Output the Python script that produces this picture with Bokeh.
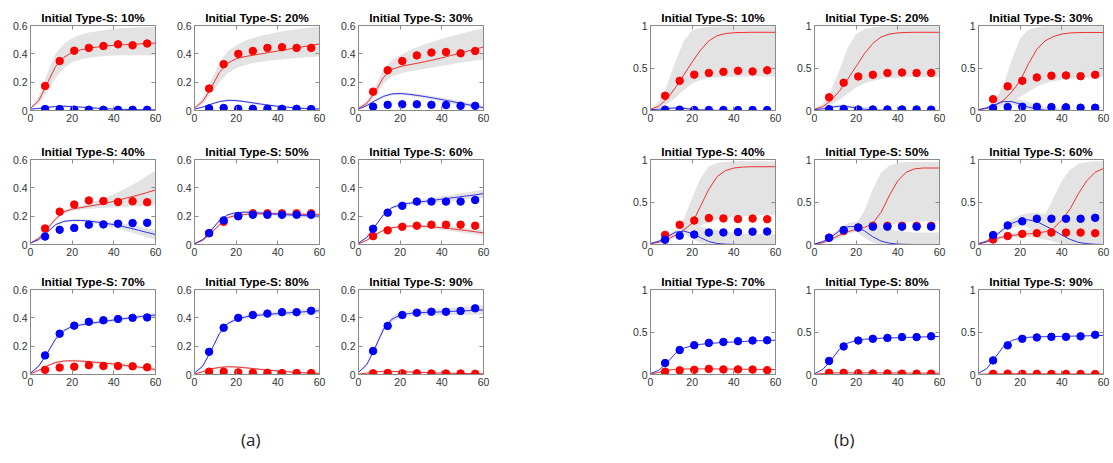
from bokeh.plotting import figure
from bokeh.layouts import row, column, Spacer
from bokeh.models import Div, FixedTicker, LinearAxis, Range1d
from bokeh.embed import file_html
from bokeh.resources import INLINE

# ---------------- data ----------------
PCTS = [10, 20, 30, 40, 50, 60, 70, 80, 90]
DAYS = [7, 14, 21, 28, 35, 42, 49, 56]
TIME = [0, 4, 8, 12, 16, 20, 24, 28, 32, 36, 40, 44, 48, 52, 56, 60]
A_YTICKS = [0, 0.2, 0.4, 0.6]
A_YLABELS = ["0", "0.2", "0.4", "0.6"]
B_YTICKS = [0, 0.5, 1]
B_YLABELS = ["0", "0.5", "1"]
XTICKS = [0, 20, 40, 60]
XLABELS = ["0", "20", "40", "60"]

red_obs = {
    10: [0.173, 0.349, 0.422, 0.442, 0.455, 0.467, 0.460, 0.473],
    20: [0.155, 0.327, 0.400, 0.420, 0.442, 0.447, 0.442, 0.442],
    30: [0.133, 0.284, 0.349, 0.389, 0.409, 0.413, 0.404, 0.420],
    40: [0.113, 0.232, 0.282, 0.311, 0.307, 0.300, 0.305, 0.298],
    50: [0.080, 0.160, 0.200, 0.220, 0.220, 0.220, 0.220, 0.220],
    60: [0.059, 0.100, 0.125, 0.133, 0.140, 0.140, 0.140, 0.133],
    70: [0.033, 0.049, 0.055, 0.066, 0.060, 0.060, 0.058, 0.051],
    80: [0.020, 0.020, 0.015, 0.012, 0.012, 0.010, 0.010, 0.010],
    90: [0.008, 0.010, 0.008, 0.008, 0.007, 0.007, 0.007, 0.005],
}
blue_obs = {
    10: [0.010, 0.010, 0.006, 0.006, 0.005, 0.005, 0.005, 0.005],
    20: [0.015, 0.018, 0.012, 0.012, 0.012, 0.012, 0.012, 0.010],
    30: [0.027, 0.040, 0.044, 0.044, 0.040, 0.038, 0.033, 0.033],
    40: [0.056, 0.104, 0.117, 0.140, 0.142, 0.147, 0.151, 0.153],
    50: [0.080, 0.170, 0.200, 0.210, 0.210, 0.210, 0.210, 0.210],
    60: [0.111, 0.225, 0.273, 0.303, 0.303, 0.303, 0.303, 0.314],
    70: [0.135, 0.288, 0.345, 0.372, 0.383, 0.392, 0.400, 0.403],
    80: [0.160, 0.330, 0.400, 0.420, 0.430, 0.440, 0.440, 0.450],
    90: [0.166, 0.343, 0.420, 0.436, 0.443, 0.443, 0.449, 0.467],
}

# ---- panel (a) model fits ----
a_red_fit = {
    10: [0.015, 0.07, 0.19, 0.31, 0.375, 0.41, 0.428, 0.44, 0.448, 0.455, 0.46, 0.464, 0.467, 0.47, 0.473, 0.476],
    20: [0.018, 0.065, 0.16, 0.27, 0.335, 0.365, 0.38, 0.39, 0.40, 0.41, 0.42, 0.43, 0.44, 0.45, 0.46, 0.47],
    30: [0.015, 0.05, 0.13, 0.235, 0.29, 0.31, 0.322, 0.333, 0.345, 0.358, 0.372, 0.387, 0.402, 0.418, 0.433, 0.448],
    40: [0.01, 0.045, 0.11, 0.18, 0.23, 0.25, 0.26, 0.27, 0.28, 0.29, 0.305, 0.32, 0.335, 0.35, 0.367, 0.385],
    50: [0.005, 0.03, 0.08, 0.14, 0.19, 0.205, 0.212, 0.215, 0.216, 0.216, 0.216, 0.215, 0.214, 0.213, 0.212, 0.21],
    60: [0.005, 0.03, 0.07, 0.10, 0.118, 0.127, 0.13, 0.13, 0.128, 0.124, 0.118, 0.112, 0.105, 0.098, 0.09, 0.082],
    70: [0.005, 0.03, 0.06, 0.085, 0.095, 0.097, 0.095, 0.09, 0.085, 0.08, 0.074, 0.067, 0.06, 0.052, 0.044, 0.035],
    80: [0.003, 0.02, 0.04, 0.05, 0.055, 0.053, 0.048, 0.042, 0.036, 0.03, 0.025, 0.02, 0.016, 0.013, 0.01, 0.008],
    90: [0.002, 0.01, 0.018, 0.022, 0.022, 0.02, 0.018, 0.016, 0.014, 0.012, 0.01, 0.009, 0.008, 0.007, 0.006, 0.005],
}
a_red_lo = {
    10: [0.010, 0.05, 0.13, 0.23, 0.30, 0.34, 0.36, 0.372, 0.38, 0.385, 0.388, 0.39, 0.39, 0.39, 0.39, 0.39],
    20: [0.012, 0.045, 0.12, 0.20, 0.265, 0.30, 0.32, 0.335, 0.345, 0.352, 0.358, 0.364, 0.369, 0.374, 0.378, 0.382],
    30: [0.010, 0.035, 0.10, 0.19, 0.24, 0.262, 0.275, 0.285, 0.295, 0.305, 0.315, 0.325, 0.335, 0.345, 0.353, 0.36],
    40: [0.007, 0.038, 0.10, 0.168, 0.218, 0.238, 0.246, 0.252, 0.256, 0.259, 0.262, 0.265, 0.268, 0.271, 0.274, 0.277],
    50: [0.002, 0.024, 0.072, 0.132, 0.182, 0.197, 0.204, 0.207, 0.208, 0.207, 0.206, 0.204, 0.202, 0.2, 0.198, 0.195],
    60: [0.002, 0.025, 0.063, 0.092, 0.11, 0.118, 0.12, 0.119, 0.116, 0.111, 0.104, 0.096, 0.088, 0.079, 0.07, 0.06],
    70: [0.002, 0.025, 0.053, 0.077, 0.087, 0.089, 0.086, 0.081, 0.075, 0.069, 0.062, 0.055, 0.047, 0.039, 0.03, 0.021],
    80: [0.001, 0.016, 0.034, 0.044, 0.048, 0.046, 0.041, 0.035, 0.029, 0.023, 0.018, 0.014, 0.01, 0.007, 0.005, 0.003],
    90: [0.0, 0.007, 0.014, 0.017, 0.017, 0.015, 0.013, 0.011, 0.009, 0.007, 0.006, 0.005, 0.004, 0.003, 0.002, 0.001],
}
a_red_hi = {
    10: [0.020, 0.10, 0.26, 0.40, 0.47, 0.51, 0.535, 0.55, 0.56, 0.568, 0.575, 0.58, 0.584, 0.587, 0.589, 0.59],
    20: [0.022, 0.09, 0.21, 0.34, 0.42, 0.46, 0.49, 0.51, 0.527, 0.54, 0.552, 0.563, 0.572, 0.58, 0.588, 0.595],
    30: [0.020, 0.07, 0.17, 0.29, 0.355, 0.39, 0.42, 0.445, 0.467, 0.487, 0.505, 0.522, 0.538, 0.553, 0.566, 0.578],
    40: [0.013, 0.052, 0.12, 0.192, 0.242, 0.262, 0.276, 0.292, 0.31, 0.33, 0.355, 0.385, 0.415, 0.447, 0.485, 0.525],
    50: [0.008, 0.036, 0.088, 0.148, 0.198, 0.213, 0.22, 0.223, 0.224, 0.225, 0.226, 0.226, 0.226, 0.226, 0.226, 0.225],
    60: [0.008, 0.035, 0.077, 0.108, 0.126, 0.136, 0.14, 0.141, 0.14, 0.137, 0.132, 0.128, 0.122, 0.117, 0.11, 0.104],
    70: [0.008, 0.035, 0.067, 0.093, 0.103, 0.105, 0.104, 0.1, 0.095, 0.091, 0.086, 0.079, 0.073, 0.065, 0.058, 0.049],
    80: [0.005, 0.024, 0.046, 0.056, 0.062, 0.06, 0.055, 0.049, 0.043, 0.037, 0.032, 0.026, 0.022, 0.019, 0.015, 0.013],
    90: [0.004, 0.013, 0.022, 0.027, 0.027, 0.025, 0.023, 0.021, 0.019, 0.017, 0.014, 0.013, 0.012, 0.011, 0.01, 0.009],
}
a_blue_fit = {
    10: [0.010, 0.015, 0.022, 0.028, 0.030, 0.028, 0.024, 0.020, 0.016, 0.013, 0.010, 0.008, 0.007, 0.006, 0.005, 0.005],
    20: [0.01, 0.025, 0.045, 0.063, 0.072, 0.07, 0.063, 0.054, 0.045, 0.037, 0.03, 0.024, 0.019, 0.015, 0.012, 0.01],
    30: [0.01, 0.035, 0.07, 0.10, 0.117, 0.12, 0.115, 0.107, 0.098, 0.088, 0.077, 0.066, 0.054, 0.043, 0.031, 0.02],
    40: [0.01, 0.035, 0.085, 0.14, 0.163, 0.17, 0.17, 0.166, 0.158, 0.15, 0.14, 0.128, 0.115, 0.10, 0.085, 0.07],
    50: [0.005, 0.035, 0.10, 0.17, 0.21, 0.225, 0.228, 0.226, 0.222, 0.218, 0.214, 0.21, 0.207, 0.204, 0.202, 0.20],
    60: [0.01, 0.05, 0.13, 0.21, 0.26, 0.28, 0.29, 0.298, 0.305, 0.312, 0.32, 0.328, 0.335, 0.343, 0.35, 0.36],
    70: [0.01, 0.06, 0.15, 0.25, 0.31, 0.34, 0.35, 0.36, 0.368, 0.375, 0.385, 0.393, 0.40, 0.407, 0.414, 0.42],
    80: [0.01, 0.06, 0.17, 0.29, 0.36, 0.39, 0.405, 0.415, 0.42, 0.425, 0.43, 0.434, 0.438, 0.442, 0.446, 0.45],
    90: [0.015, 0.07, 0.19, 0.32, 0.39, 0.42, 0.43, 0.435, 0.438, 0.44, 0.442, 0.445, 0.448, 0.45, 0.453, 0.456],
}
a_blue_lo = {
    10: [0.006, 0.010, 0.016, 0.021, 0.023, 0.021, 0.018, 0.014, 0.011, 0.008, 0.006, 0.004, 0.003, 0.002, 0.002, 0.002],
    20: [0.006, 0.02, 0.039, 0.056, 0.064, 0.062, 0.055, 0.046, 0.037, 0.029, 0.022, 0.016, 0.012, 0.008, 0.006, 0.004],
    30: [0.006, 0.028, 0.062, 0.092, 0.108, 0.111, 0.105, 0.096, 0.086, 0.075, 0.063, 0.051, 0.039, 0.028, 0.017, 0.008],
    40: [0.007, 0.03, 0.078, 0.132, 0.155, 0.162, 0.161, 0.155, 0.145, 0.133, 0.12, 0.104, 0.087, 0.07, 0.052, 0.035],
    50: [0.002, 0.029, 0.092, 0.162, 0.202, 0.217, 0.219, 0.216, 0.211, 0.206, 0.201, 0.196, 0.192, 0.188, 0.185, 0.182],
    60: [0.006, 0.044, 0.122, 0.2, 0.25, 0.27, 0.279, 0.285, 0.29, 0.295, 0.3, 0.306, 0.311, 0.317, 0.322, 0.33],
    70: [0.006, 0.052, 0.14, 0.24, 0.3, 0.33, 0.34, 0.35, 0.357, 0.364, 0.373, 0.381, 0.388, 0.394, 0.4, 0.405],
    80: [0.006, 0.052, 0.16, 0.278, 0.348, 0.378, 0.392, 0.401, 0.405, 0.409, 0.413, 0.416, 0.419, 0.422, 0.425, 0.428],
    90: [0.01, 0.06, 0.175, 0.3, 0.37, 0.4, 0.41, 0.414, 0.416, 0.417, 0.418, 0.419, 0.42, 0.42, 0.421, 0.421],
}
a_blue_hi = {
    10: [0.014, 0.020, 0.028, 0.035, 0.037, 0.035, 0.030, 0.026, 0.021, 0.018, 0.014, 0.012, 0.011, 0.010, 0.008, 0.008],
    20: [0.014, 0.03, 0.051, 0.07, 0.08, 0.078, 0.071, 0.062, 0.053, 0.045, 0.038, 0.032, 0.026, 0.022, 0.018, 0.016],
    30: [0.014, 0.042, 0.078, 0.108, 0.126, 0.129, 0.125, 0.118, 0.11, 0.101, 0.091, 0.081, 0.069, 0.058, 0.045, 0.032],
    40: [0.013, 0.04, 0.092, 0.148, 0.171, 0.178, 0.179, 0.177, 0.171, 0.165, 0.158, 0.15, 0.14, 0.128, 0.115, 0.10],
    50: [0.008, 0.041, 0.108, 0.178, 0.218, 0.233, 0.237, 0.236, 0.233, 0.23, 0.227, 0.224, 0.222, 0.22, 0.219, 0.218],
    60: [0.014, 0.056, 0.138, 0.22, 0.27, 0.29, 0.301, 0.311, 0.32, 0.329, 0.34, 0.35, 0.359, 0.369, 0.378, 0.385],
    70: [0.014, 0.068, 0.16, 0.26, 0.32, 0.35, 0.36, 0.37, 0.379, 0.386, 0.397, 0.405, 0.412, 0.42, 0.428, 0.435],
    80: [0.014, 0.068, 0.18, 0.302, 0.372, 0.402, 0.418, 0.429, 0.435, 0.441, 0.447, 0.452, 0.457, 0.462, 0.467, 0.472],
    90: [0.02, 0.08, 0.205, 0.34, 0.41, 0.44, 0.45, 0.456, 0.46, 0.463, 0.466, 0.471, 0.476, 0.48, 0.485, 0.49],
}

# ---- panel (b) model fits ----
b_red_fit = {
    10: [0.015, 0.05, 0.14, 0.27, 0.42, 0.57, 0.71, 0.82, 0.88, 0.905, 0.915, 0.918, 0.92, 0.92, 0.92, 0.92],
    20: [0.015, 0.045, 0.12, 0.23, 0.37, 0.52, 0.67, 0.79, 0.865, 0.90, 0.913, 0.918, 0.92, 0.92, 0.92, 0.92],
    30: [0.01, 0.025, 0.06, 0.12, 0.22, 0.35, 0.55, 0.72, 0.82, 0.87, 0.90, 0.912, 0.917, 0.918, 0.918, 0.918],
    40: [0.01, 0.025, 0.06, 0.11, 0.17, 0.25, 0.45, 0.65, 0.80, 0.87, 0.90, 0.91, 0.915, 0.915, 0.915, 0.915],
    50: [0.005, 0.02, 0.06, 0.11, 0.15, 0.18, 0.20, 0.25, 0.38, 0.58, 0.75, 0.85, 0.89, 0.90, 0.90, 0.90],
    60: [0.005, 0.03, 0.07, 0.09, 0.105, 0.12, 0.125, 0.135, 0.15, 0.19, 0.29, 0.42, 0.60, 0.75, 0.85, 0.895],
    70: [0.005, 0.025, 0.05, 0.06, 0.065, 0.066, 0.066, 0.066, 0.065, 0.064, 0.063, 0.062, 0.061, 0.06, 0.059, 0.058],
    80: [0.003, 0.012, 0.018, 0.02, 0.02, 0.02, 0.02, 0.02, 0.019, 0.018, 0.018, 0.017, 0.017, 0.016, 0.016, 0.015],
    90: [0.002, 0.006, 0.008, 0.009, 0.009, 0.009, 0.009, 0.008, 0.008, 0.008, 0.008, 0.007, 0.007, 0.007, 0.007, 0.007],
}
b_red_lo = {
    10: [0.01, 0.03, 0.08, 0.15, 0.24, 0.32, 0.36, 0.38, 0.39, 0.395, 0.398, 0.40, 0.40, 0.40, 0.40, 0.40],
    20: [0.01, 0.03, 0.07, 0.13, 0.20, 0.27, 0.32, 0.35, 0.37, 0.38, 0.385, 0.39, 0.39, 0.39, 0.39, 0.39],
    30: [0.005, 0.015, 0.03, 0.055, 0.10, 0.16, 0.22, 0.28, 0.32, 0.345, 0.362, 0.372, 0.38, 0.385, 0.388, 0.39],
    40: [0.005, 0.015, 0.04, 0.08, 0.12, 0.17, 0.22, 0.26, 0.29, 0.31, 0.325, 0.335, 0.34, 0.345, 0.35, 0.35],
    50: [0.003, 0.012, 0.04, 0.08, 0.12, 0.15, 0.17, 0.19, 0.21, 0.23, 0.25, 0.26, 0.27, 0.27, 0.27, 0.27],
    60: [0.003, 0.02, 0.05, 0.07, 0.08, 0.09, 0.09, 0.08, 0.06, 0.04, 0.02, 0.01, 0.01, 0.01, 0.01, 0.01],
}
b_red_hi = {
    10: [0.02, 0.10, 0.30, 0.58, 0.82, 0.94, 0.975, 0.985, 0.99, 0.99, 0.99, 0.99, 0.99, 0.99, 0.99, 0.99],
    20: [0.02, 0.08, 0.24, 0.48, 0.74, 0.90, 0.96, 0.98, 0.99, 0.99, 0.99, 0.99, 0.99, 0.99, 0.99, 0.99],
    30: [0.015, 0.04, 0.12, 0.30, 0.60, 0.85, 0.95, 0.98, 0.99, 0.99, 0.99, 0.99, 0.99, 0.99, 0.99, 0.99],
    40: [0.015, 0.035, 0.08, 0.16, 0.30, 0.55, 0.78, 0.92, 0.96, 0.975, 0.98, 0.98, 0.98, 0.98, 0.98, 0.98],
    50: [0.008, 0.03, 0.08, 0.14, 0.18, 0.24, 0.40, 0.65, 0.85, 0.93, 0.96, 0.97, 0.97, 0.97, 0.97, 0.97],
    60: [0.008, 0.04, 0.09, 0.11, 0.13, 0.15, 0.17, 0.22, 0.35, 0.55, 0.75, 0.88, 0.95, 0.97, 0.98, 0.98],
}
b_blue_fit = {
    10: [0.01, 0.015, 0.025, 0.03, 0.025, 0.015, 0.008, 0.004, 0.002, 0.001, 0.001, 0.0, 0.0, 0.0, 0.0, 0.0],
    20: [0.01, 0.02, 0.04, 0.05, 0.045, 0.03, 0.015, 0.007, 0.003, 0.001, 0.0, 0.0, 0.0, 0.0, 0.0, 0.0],
    30: [0.01, 0.03, 0.07, 0.105, 0.105, 0.075, 0.04, 0.015, 0.005, 0.002, 0.0, 0.0, 0.0, 0.0, 0.0, 0.0],
    40: [0.01, 0.04, 0.09, 0.145, 0.158, 0.13, 0.08, 0.035, 0.012, 0.004, 0.001, 0.0, 0.0, 0.0, 0.0, 0.0],
    50: [0.005, 0.035, 0.09, 0.16, 0.21, 0.21, 0.16, 0.09, 0.04, 0.015, 0.005, 0.002, 0.0, 0.0, 0.0, 0.0],
    60: [0.01, 0.04, 0.10, 0.18, 0.25, 0.285, 0.29, 0.27, 0.22, 0.17, 0.11, 0.06, 0.025, 0.01, 0.003, 0.0],
    70: [0.01, 0.05, 0.14, 0.25, 0.31, 0.34, 0.355, 0.365, 0.372, 0.378, 0.383, 0.388, 0.393, 0.397, 0.40, 0.403],
    80: [0.01, 0.06, 0.17, 0.30, 0.37, 0.40, 0.415, 0.422, 0.427, 0.43, 0.433, 0.436, 0.439, 0.442, 0.445, 0.448],
    90: [0.015, 0.07, 0.20, 0.33, 0.40, 0.43, 0.438, 0.442, 0.445, 0.447, 0.449, 0.451, 0.453, 0.455, 0.457, 0.46],
}
b_blue_lo = {
    10: [0.005, 0.008, 0.012, 0.014, 0.01, 0.005, 0.002, 0.0, 0.0, 0.0, 0.0, 0.0, 0.0, 0.0, 0.0, 0.0],
    20: [0.005, 0.012, 0.026, 0.032, 0.026, 0.014, 0.005, 0.001, 0.0, 0.0, 0.0, 0.0, 0.0, 0.0, 0.0, 0.0],
    30: [0.005, 0.02, 0.05, 0.075, 0.07, 0.04, 0.015, 0.003, 0.0, 0.0, 0.0, 0.0, 0.0, 0.0, 0.0, 0.0],
    40: [0.005, 0.03, 0.07, 0.12, 0.12, 0.07, 0.02, 0.0, 0.0, 0.0, 0.0, 0.0, 0.0, 0.0, 0.0, 0.0],
    50: [0.002, 0.025, 0.07, 0.13, 0.17, 0.15, 0.08, 0.02, 0.0, 0.0, 0.0, 0.0, 0.0, 0.0, 0.0, 0.0],
    60: [0.005, 0.03, 0.08, 0.15, 0.20, 0.22, 0.20, 0.15, 0.08, 0.03, 0.01, 0.0, 0.0, 0.0, 0.0, 0.0],
}
b_blue_hi = {
    10: [0.015, 0.022, 0.035, 0.045, 0.04, 0.03, 0.02, 0.012, 0.008, 0.005, 0.004, 0.003, 0.002, 0.002, 0.002, 0.002],
    20: [0.015, 0.028, 0.055, 0.07, 0.068, 0.055, 0.04, 0.025, 0.015, 0.01, 0.007, 0.005, 0.004, 0.003, 0.003, 0.003],
    30: [0.015, 0.04, 0.09, 0.13, 0.14, 0.13, 0.10, 0.07, 0.045, 0.03, 0.02, 0.015, 0.01, 0.01, 0.01, 0.01],
    40: [0.015, 0.05, 0.11, 0.17, 0.20, 0.22, 0.21, 0.19, 0.17, 0.15, 0.14, 0.13, 0.12, 0.12, 0.12, 0.12],
    50: [0.008, 0.045, 0.11, 0.19, 0.25, 0.27, 0.26, 0.23, 0.20, 0.18, 0.16, 0.15, 0.14, 0.14, 0.14, 0.14],
    60: [0.015, 0.05, 0.12, 0.21, 0.30, 0.35, 0.37, 0.37, 0.36, 0.34, 0.32, 0.30, 0.28, 0.26, 0.25, 0.25],
}

# ---------------- styling ----------------
BAND = "#e3e3e3"
RED_LINE = "#f03030"
BLUE_LINE = "#3030f0"
RED_DOT = "#ff0000"
BLUE_DOT = "#0000ff"
AXC = "#8a8a8a"
LBL = "#333333"
FONT = "Liberation Sans"
ROW_H = [134, 130, 130]


def style_axis(ax, ticks, labels):
    ax.ticker = FixedTicker(ticks=ticks)
    ax.major_tick_in = 4
    ax.major_tick_out = 0
    ax.minor_tick_in = 0
    ax.minor_tick_out = 0
    ax.axis_line_color = AXC
    ax.major_tick_line_color = AXC
    ax.major_label_text_font = FONT
    if labels is None:
        # box side: ticks only, labels not drawn
        ax.major_label_text_color = None
        ax.major_label_text_font_size = "1px"
        ax.major_label_standoff = 0
    else:
        ax.major_label_text_color = LBL
        ax.major_label_text_font_size = "10.5px"
        ax.major_label_standoff = 3
        ax.major_label_overrides = {t: s for t, s in zip(ticks, labels)}


def make_fig(pct, panel, col, rw):
    right = 10 if (panel == "b" and col == 2) else 17
    h = ROW_H[rw]
    ymax = 0.6 if panel == "a" else 1.0
    yt, yl = (A_YTICKS, A_YLABELS) if panel == "a" else (B_YTICKS, B_YLABELS)
    p = figure(width=22 + 125 + right, height=h,
               x_range=Range1d(0, 60), y_range=Range1d(0, ymax),
               min_border_left=22, min_border_right=right,
               min_border_top=12, min_border_bottom=h - 12 - 90,
               toolbar_location=None, output_backend="svg",
               title=f"Initial Type-S: {pct}%")
    p.title.align = "center"
    p.title.text_font = FONT
    p.title.text_font_size = "11.8px"
    p.title.text_font_style = "bold"
    p.title.text_color = "#000000"
    p.title.standoff = 1
    p.title.offset = 0
    p.grid.visible = False
    p.outline_line_color = AXC
    p.background_fill_color = "white"
    p.border_fill_color = "white"
    style_axis(p.xaxis[0], XTICKS, XLABELS)
    style_axis(p.yaxis[0], yt, yl)
    top = LinearAxis()
    style_axis(top, XTICKS, None)
    p.add_layout(top, "above")
    rgt = LinearAxis()
    style_axis(rgt, yt, None)
    p.add_layout(rgt, "right")

    if panel == "a":
        sets = [(a_red_fit, a_red_lo, a_red_hi), (a_blue_fit, a_blue_lo, a_blue_hi)]
    else:
        sets = [(b_red_fit, b_red_lo, b_red_hi), (b_blue_fit, b_blue_lo, b_blue_hi)]
    for fit, lo, hi in sets:
        if pct in lo:
            p.varea(x=TIME, y1=lo[pct], y2=hi[pct], fill_color=BAND)
    p.line(TIME, sets[0][0][pct], line_color=RED_LINE, line_width=1)
    p.line(TIME, sets[1][0][pct], line_color=BLUE_LINE, line_width=1)
    p.scatter(DAYS, red_obs[pct], size=7.5, fill_color=RED_DOT, line_color=RED_DOT)
    p.scatter(DAYS, blue_obs[pct], size=7.5, fill_color=BLUE_DOT, line_color=BLUE_DOT)
    return p


rows = []
for rw in range(3):
    figs_a = [make_fig(PCTS[rw * 3 + c], "a", c, rw) for c in range(3)]
    figs_b = [make_fig(PCTS[rw * 3 + c], "b", c, rw) for c in range(3)]
    rows.append(row(*figs_a, Spacer(width=128, height=ROW_H[rw]), *figs_b))

caption = Div(
    text=('<div style="position:relative;width:1105px;height:52px;'
          'font-family:\'Open Sans\';font-size:17px;color:#222;">'
          '<span style="position:absolute;left:228px;top:21px;">(a)</span>'
          '<span style="position:absolute;left:821px;top:21px;">(b)</span></div>'),
    width=1105, height=52)

grid = column(*rows, caption)
# the page body has no margin of its own: reserve the 8px margin explicitly
layout = column(Spacer(width=1113, height=8), row(Spacer(width=8, height=446), grid))

open("out.html", "w").write(file_html(layout, INLINE))
